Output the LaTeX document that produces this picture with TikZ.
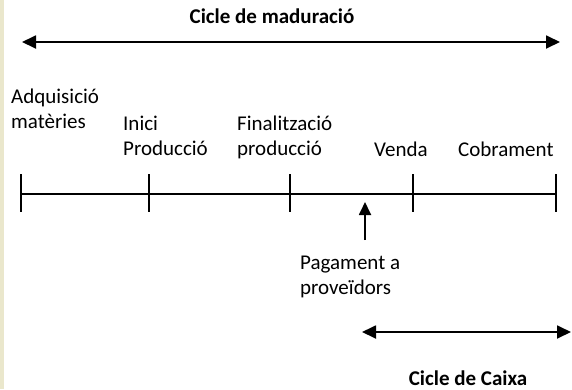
\documentclass[tikz,border=0pt]{standalone}
\usepackage{fontspec}
\setmainfont{Carlito}
\usetikzlibrary{arrows.meta}
\definecolor{stripbeige}{RGB}{234,231,204}
\begin{document}
\begin{tikzpicture}[x=1pt,y=-1pt,
  lbl/.style={inner sep=0pt,anchor=base west,align=left,font=\fontsize{21}{25}\selectfont},
  ttl/.style={inner sep=0pt,anchor=base,font=\fontsize{21}{25}\selectfont\bfseries},
  dbl/.style={line width=1.8pt,{Triangle[length=14pt,width=13pt]}-{Triangle[length=14pt,width=13pt]}},
  axis/.style={line width=2.2pt},
  tick/.style={line width=2.2pt},
  uparr/.style={line width=1.8pt,-{Triangle[length=13pt,width=12pt]}}]
\useasboundingbox (0,0) rectangle (572,389);
\fill[stripbeige] (0,0) rectangle (3.5,389);
% titles
\node[ttl] (tmad) at (272,23) {Cicle de maduració};
\node[ttl] (tcai) at (468,385) {Cicle de Caixa};
% top and bottom arrows
\coordinate (ma) at (22,42);
\coordinate (mb) at (560,42);
\draw[dbl] (ma) -- (mb);
\coordinate (ca) at (362,332);
\coordinate (cb) at (571,332);
\draw[dbl] (ca) -- (cb);
% timeline
\foreach \i/\x in {1/21,2/149,3/290,4/413,5/556}{
  \coordinate (a\i) at (\x,194);
  \coordinate (u\i) at (\x,174);
  \coordinate (d\i) at (\x,212);
  \draw[tick] (u\i) -- (d\i);
}
\draw[axis] (a1) -- (a5);
% labels (base anchor = last line)
\node[lbl] (adq) at (11,128) {Adquisició\\matèries};
\node[lbl] (ini) at (123,155) {Inici\\Producció};
\node[lbl] (fin) at (237,155) {Finalització\\producció};
\node[lbl] (ven) at (374,156) {Venda};
\node[lbl] (cob) at (458,156) {Cobrament};
\node[lbl] (pag) at (300,294) {Pagament a\\proveïdors};
% payment arrow
\coordinate (pt) at (365,240);
\coordinate (ph) at (365,202);
\draw[uparr] (pt) -- (ph);
\end{tikzpicture}
\end{document}
